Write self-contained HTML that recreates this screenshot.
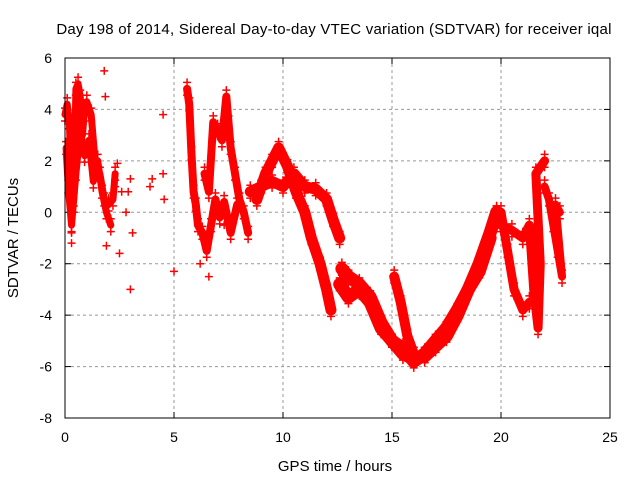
<!DOCTYPE html>
<html><head><meta charset="utf-8"><style>
body{margin:0;background:#fff}
svg{display:block;font-family:"Liberation Sans",sans-serif}
</style></head><body>
<svg id="chart" width="640" height="480" viewBox="0 0 640 480">
<text x="334" y="34" font-size="15" letter-spacing="0.24" text-anchor="middle">Day 198 of 2014, Sidereal Day-to-day VTEC variation (SDTVAR) for receiver iqal</text>
<text x="335" y="471" font-size="15" text-anchor="middle">GPS time / hours</text>
<text x="18" y="238" font-size="15" text-anchor="middle" transform="rotate(-90 18 238)">SDTVAR / TECUs</text>
<g id="grid"></g><g id="data"></g>
<rect x="65" y="58" width="545" height="360" fill="none" stroke="#000" stroke-width="1"/>
</svg>
<script>
const xTicks=[0,5,10,15,20,25];
const yTicks=[-8,-6,-4,-2,0,2,4,6];
// tracks: [hours, value] samples
const trackEarly=[[0,3.8],[0.1,4.2],[0.2,3.5],[0.3,1.0],[0.4,0.5],[0.5,4.8],[0.6,5.0],[0.7,4.5],[0.8,3.0],[0.9,4.0],[1.0,4.3],[1.2,3.8],[1.4,1.8],[1.6,1.5],[1.8,0.5],[2.0,0.3],[2.2,0.5],[2.3,1.5]];
const trackEarly2=[[0.05,2.5],[0.15,1.0],[0.3,-0.5],[0.5,1.5],[0.7,3.2],[0.9,2.2],[1.1,2.8],[1.3,1.2],[1.5,2.0],[1.7,0.8],[1.9,0.0],[2.1,-0.5]];
const scatterPts=[[0.3,-1.2],[1.8,5.5],[1.9,-1.3],[2.5,-1.6],[3.0,-3.0],[2.9,0.8],[3.0,1.3],[2.8,0.0],[3.1,-0.8],[3.9,1.0],[4.0,1.3],[4.5,3.8],[4.5,1.5],[4.55,0.5],[5.0,-2.3],[2.4,1.9],[1.85,4.5],[7.3,-0.5],[6.2,-2.0],[6.6,-2.5],[0.3,-0.8],[0.4,0.0],[2.3,1.0],[2.6,0.8]];
const trackB=[[5.6,4.8],[5.7,4.2],[5.8,2.3],[5.9,0.8],[6.0,0.3],[6.1,-0.5],[6.3,-0.8],[6.5,-1.5],[6.7,-0.5],[6.9,0.5],[7.1,-0.2],[7.3,0.4],[7.6,-0.8],[7.9,0.3]];
const trackB2=[[6.4,1.5],[6.6,0.8],[6.8,3.5],[7.0,3.2],[7.2,2.8],[7.4,4.5],[7.5,3.5],[7.6,2.5],[7.8,1.5],[8.0,0.5],[8.2,0.0],[8.4,-0.8]];
const trackC=[[8.5,0.8],[9.0,1.0],[9.5,1.2],[10.0,1.0],[10.5,1.5],[11.0,1.0],[11.5,0.9],[12.0,0.5],[12.3,-0.3],[12.6,-1.0]];
const trackD=[[8.8,0.5],[9.2,1.5],[9.5,2.0],[9.8,2.5],[10.2,1.8],[10.6,0.8],[11.0,0.0],[11.3,-1.0],[11.7,-2.0],[12.0,-3.0],[12.2,-3.8]];
const trackE=[[12.7,-2.2],[13.0,-2.5],[13.5,-2.8],[14.0,-3.3],[14.5,-4.3],[15.0,-5.0],[15.5,-5.5],[16.0,-5.7],[16.5,-5.6],[17.0,-5.2],[17.5,-4.8],[18.0,-4.0],[18.5,-3.0],[19.0,-2.0],[19.5,-0.8],[19.8,0.0]];
const trackF=[[12.6,-2.8],[13.0,-3.3],[13.5,-3.0],[14.0,-3.5],[14.5,-4.5],[15.0,-5.0],[15.5,-5.3],[16.0,-5.8],[16.5,-5.5],[17.0,-5.0],[17.5,-4.5],[18.0,-3.8],[18.5,-3.0],[19.0,-2.3],[19.5,-1.0]];
const trackG=[[15.1,-2.5],[15.4,-3.5],[15.7,-4.8],[16.0,-5.5]];
const trackH=[[19.8,0.0],[20.0,0.0],[20.3,-1.5],[20.6,-3.0],[21.0,-3.8],[21.3,-3.5]];
const trackI=[[20.0,-0.5],[20.5,-0.7],[21.0,-1.0],[21.3,-0.5],[21.5,-3.0],[21.7,-4.5],[21.8,-2.0],[21.6,1.5],[22.0,2.0]];
const trackJ=[[22.0,1.0],[22.2,0.5],[22.4,-0.5],[22.6,-1.5],[22.8,-2.5],[22.5,0.3],[22.7,0.0]];
const tracks=[trackEarly,trackEarly2,trackB,trackB2,trackC,trackD,trackE,trackF,trackG,trackH,trackI,trackJ];
const trackWidths=[7,7,8,8,11,11,13,13,10,9,9,8];
const NS='http://www.w3.org/2000/svg';
const X=h=>65+h*545/25, Y=v=>58+(6-v)*360/14;
const grid=document.getElementById('grid'), data=document.getElementById('data');
function mk(tag,attrs,parent){const e=document.createElementNS(NS,tag);for(const k in attrs)e.setAttribute(k,attrs[k]);parent.appendChild(e);return e;}
xTicks.forEach(t=>{
 if(t>0&&t<25){const l=mk('line',{x1:X(t),x2:X(t),y1:58,y2:418,stroke:'#999','stroke-dasharray':'3,3'},grid);
 
 }
 mk('line',{x1:X(t),x2:X(t),y1:418,y2:412,stroke:'#000'},grid);
 mk('line',{x1:X(t),x2:X(t),y1:58,y2:64,stroke:'#000'},grid);
 const tx=mk('text',{x:X(t),y:442,'font-size':14,'text-anchor':'middle'},grid);tx.textContent=t;
 
 
});
yTicks.forEach(t=>{
 if(t>-8&&t<6){const l=mk('line',{x1:65,x2:610,y1:Y(t),y2:Y(t),stroke:'#999','stroke-dasharray':'3,3'},grid);
 
 }
 mk('line',{x1:65,x2:71,y1:Y(t),y2:Y(t),stroke:'#000'},grid);
 mk('line',{x1:610,x2:604,y1:Y(t),y2:Y(t),stroke:'#000'},grid);
 const tx=mk('text',{x:52,y:Y(t)+5,'font-size':14,'text-anchor':'end'},grid);tx.textContent=t;
 
 
});
function plus(h,v){const x=X(h),y=Y(v);
 const p=mk('path',{d:`M${x-4},${y}H${x+4}M${x},${y-4}V${y+4}`,stroke:'#f00','stroke-width':1.5},data);
 
 }
tracks.forEach((tr,i)=>{
 const pl=mk('polyline',{points:tr.map(p=>X(p[0])+','+Y(p[1])).join(' '),fill:'none',stroke:'#f00','stroke-width':trackWidths[i],'stroke-linejoin':'round','stroke-linecap':'round'},data);
 
 
 tr.forEach(p=>plus(p[0],p[1]+0.25));
 tr.forEach(p=>plus(p[0],p[1]-0.25));
});
scatterPts.forEach(p=>plus(p[0],p[1]));
</script>
</body></html>
